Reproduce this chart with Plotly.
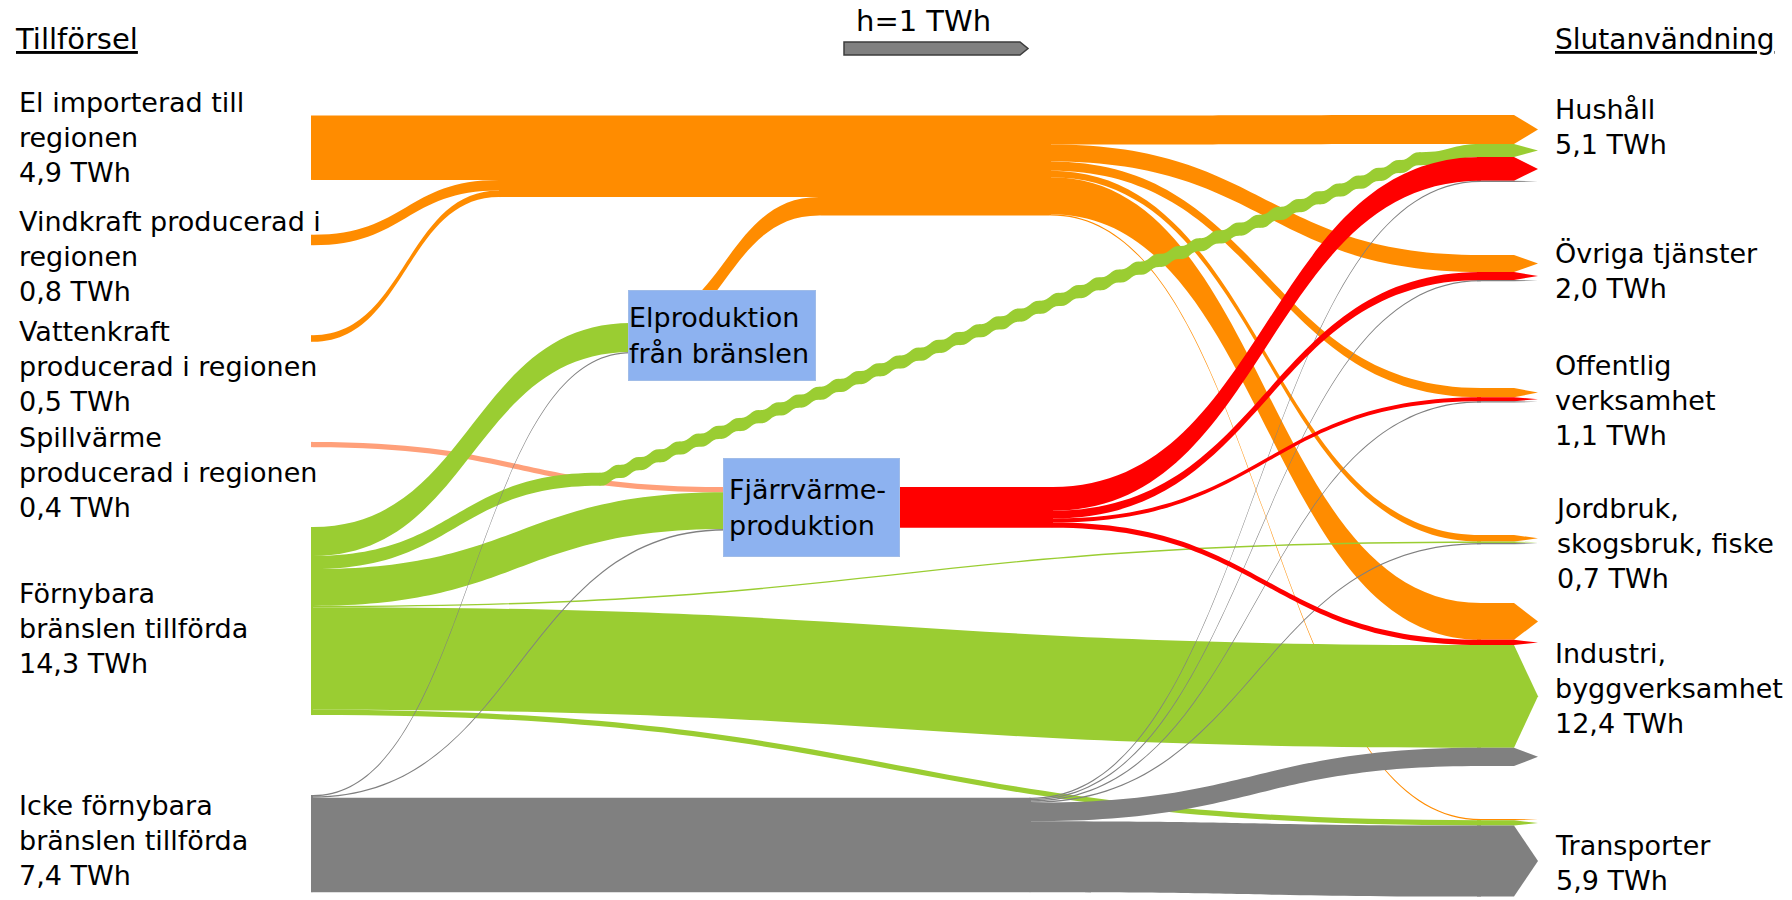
import plotly.graph_objects as go

# ------------------------------------------------------------------ data (TWh)
supply_names = ["El importerad till regionen", "Vindkraft producerad i regionen",
                "Vattenkraft producerad i regionen", "Spillvärme producerad i regionen",
                "Förnybara bränslen tillförda", "Icke förnybara bränslen tillförda"]
supply_text = ["El importerad till<br>regionen", "Vindkraft producerad i<br>regionen",
               "Vattenkraft<br>producerad i regionen", "Spillvärme<br>producerad i regionen",
               "Förnybara<br>bränslen tillförda", "Icke förnybara<br>bränslen tillförda"]
supply_twh = [4.9, 0.8, 0.5, 0.4, 14.3, 7.4]

conv_names = ["Elproduktion från bränslen", "Fjärrvärmeproduktion"]
conv_text = ["Elproduktion<br>från bränslen", "Fjärrvärme-<br>produktion"]

use_names = ["Hushåll", "Övriga tjänster", "Offentlig verksamhet",
             "Jordbruk, skogsbruk, fiske", "Industri, byggverksamhet", "Transporter"]
use_text = ["Hushåll", "Övriga tjänster", "Offentlig<br>verksamhet",
            "Jordbruk,<br>skogsbruk, fiske", "Industri,<br>byggverksamhet", "Transporter"]
use_twh = [5.1, 2.0, 1.1, 0.7, 12.4, 5.9]

el_from_supply = [4.9, 0.8, 0.5]          # import, vind, vatten -> el
el_from_elprod = 1.4                      # elproduktion -> el
el_to_use = [2.2, 1.3, 0.7, 0.5, 2.8, 0.1]
spill_to_fjv = 0.4
renewable_to_conv = [2.2, 2.8]            # -> elproduktion, fjärrvärme
renewable_to_use = [1.0, 0.0, 0.0, 0.1, 7.8, 0.4]
fossil_to_conv = [0.1, 0.1]
fossil_to_use = [0.1, 0.1, 0.1, 0.1, 1.4, 5.4]
fjv_to_use = [1.8, 0.6, 0.3, 0.0, 0.4, 0.0]

scale_twh = 1.0                           # key: h = 1 TWh


def twh(v):
    return f"{v:.1f}".replace(".", ",") + " TWh"


# ------------------------------------------------------------------ layout / style
PAGE_W, PAGE_H = 1792, 900
DOM_L, DOM_R, DOM_T, DOM_B = 300, 1560, 114, 898
DOM_W, DOM_H = DOM_R - DOM_L, DOM_B - DOM_T
KY = 13.15            # px per TWh
THICK = 2
ARROW = 24

ORANGE = "rgb(255,140,0)"
GREEN = "rgb(154,205,50)"
RED = "rgb(255,0,0)"
GREY = "rgb(128,128,128)"
SALMON = "rgb(255,160,122)"
BOX = "rgb(141,178,240)"
NONE = "rgba(0,0,0,0)"
FONT = "DejaVu Sans"
FS = 27

supply_x = 312
supply_top = [115.5, 234.7, 335.2, 441.9, 527, 795]
supply_color = [ORANGE, ORANGE, ORANGE, SALMON, GREEN, GREY]
use_x_in, use_x_stub, use_x_tip = 1482, 1476, 1539
use_top = [115, 255, 388, 535, 603, 819]

# the direct renewable flow to households is drawn as a straight band:
# it is routed through small pass-through nodes along the line between these two points (px)
green_line = ((387, 562.5), (1441, 150.5))
green_route_x = list(range(600, 1421, 20))

# ------------------------------------------------------------------ trace 1 network
keys, nx, ntop, ncol, nname = [], {}, {}, {}, {}


def add_node(k, x, top, col, name):
    keys.append(k)
    nx[k], ntop[k], ncol[k], nname[k] = x, top, col, name


links = []


def add_link(s, t, v, c):
    if v > 0:
        links.append((s, t, v, c))


for i in range(6):
    add_node(f"s{i}", supply_x, supply_top[i], supply_color[i], supply_names[i])
add_node("elprod", 632, 323, BOX, conv_names[0])
add_node("fjv", 727, 487, BOX, conv_names[1])
add_node("elA", 500, 115.5, ORANGE, "El")
add_node("elB", 820, 115.5, ORANGE, "El")
add_node("elC", 1050, 115.5, ORANGE, "El")
add_node("fjvnet", 1052, 487, RED, "Fjärrvärme")
add_node("fossilhub", 1030, supply_top[5] + sum(fossil_to_conv) * KY, GREY, supply_names[5])
(lx0, ly0), (lx1, ly1) = green_line
for j, gx in enumerate(green_route_x):
    gy = ly0 + (ly1 - ly0) * (gx - lx0) / (lx1 - lx0)
    add_node(f"g{j}", gx, gy - renewable_to_use[0] * KY / 2, GREEN, supply_names[4])
for i in range(6):
    add_node(f"u{i}", use_x_in, use_top[i], NONE, use_names[i])

for i in range(3):
    add_link(f"s{i}", "elA", el_from_supply[i], ORANGE)
add_link("elA", "elB", sum(el_from_supply), ORANGE)
add_link("elprod", "elB", el_from_elprod, ORANGE)
add_link("elB", "elC", sum(el_from_supply) + el_from_elprod, ORANGE)
for i, v in enumerate(el_to_use):
    add_link("elC", f"u{i}", v, ORANGE)
add_link("s3", "fjv", spill_to_fjv, SALMON)
add_link("s4", "elprod", renewable_to_conv[0], GREEN)
add_link("s4", "fjv", renewable_to_conv[1], GREEN)
groute = ["s4"] + [f"g{j}" for j in range(len(green_route_x))] + ["u0"]
for a, b in zip(groute[:-1], groute[1:]):
    add_link(a, b, renewable_to_use[0], GREEN)
for i in range(1, 6):
    add_link("s4", f"u{i}", renewable_to_use[i], GREEN)
add_link("s5", "elprod", fossil_to_conv[0], GREY)
add_link("s5", "fjv", fossil_to_conv[1], GREY)
add_link("s5", "fossilhub", sum(fossil_to_use), GREY)
for i, v in enumerate(fossil_to_use):
    add_link("fossilhub", f"u{i}", v, GREY)
add_link("fjv", "fjvnet", sum(fjv_to_use), RED)
for i, v in enumerate(fjv_to_use):
    add_link("fjvnet", f"u{i}", v, RED)


def node_values(keys, links):
    vin = {k: 0.0 for k in keys}
    vout = {k: 0.0 for k in keys}
    for s, t, v, _ in links:
        vout[s] += v
        vin[t] += v
    return {k: max(vin[k], vout[k]) for k in keys}


def build(keys, links, xpos, tops, cols, names, first_col, arrow):
    val = node_values(keys, links)
    idx = {k: i for i, k in enumerate(keys)}
    xs = [(xpos[k] - DOM_L) / DOM_W for k in keys]
    ys = [(tops[k] + val[k] * KY / 2 - DOM_T) / DOM_H for k in keys]
    col_sum = sum(val[k] for k in first_col)
    pad = (DOM_H - col_sum * KY) / (len(first_col) - 1)
    return go.Sankey(
        arrangement="fixed",
        domain=dict(x=[DOM_L / PAGE_W, DOM_R / PAGE_W], y=[1 - DOM_B / PAGE_H, 1 - DOM_T / PAGE_H]),
        hoverinfo="none",
        node=dict(label=["" for _ in keys], customdata=[names[k] for k in keys],
                  x=xs, y=ys, pad=pad, thickness=THICK,
                  color=[cols[k] for k in keys], line=dict(width=0)),
        link=dict(source=[idx[s] for s, _, _, _ in links],
                  target=[idx[t] for _, t, _, _ in links],
                  value=[v for _, _, v, _ in links],
                  color=[c for _, _, _, c in links],
                  arrowlen=arrow, line=dict(width=0)),
    )


trace1 = build(keys, links, nx, ntop, ncol, nname, [f"s{i}" for i in range(6)], 0)

# ------------------------------------------------------------------ trace 2: arrow heads at end uses
keys2, nx2, ntop2, ncol2, nname2 = [], {}, {}, {}, {}
links2 = []
for i in range(6):
    for k, x in ((f"a{i}", use_x_stub), (f"b{i}", use_x_tip)):
        keys2.append(k)
        nx2[k], ntop2[k], ncol2[k], nname2[k] = x, use_top[i], NONE, use_names[i]
for i in range(6):
    inc = [l for l in links if l[1] == f"u{i}"]
    inc.sort(key=lambda l: ntop[l[0]])
    for s, t, v, c in inc:
        links2.append((f"a{i}", f"b{i}", v, c))

trace2 = build(keys2, links2, nx2, ntop2, ncol2, nname2, [f"a{i}" for i in range(6)], ARROW)

fig = go.Figure([trace1, trace2])

# ------------------------------------------------------------------ text
ann = []


def px_x(x):
    return x / PAGE_W


def px_y(y):
    return 1 - y / PAGE_H


def label(text, x, y, size=FS, xanchor="left", yanchor="middle", **kw):
    ann.append(dict(text=text, x=px_x(x), y=px_y(y), xref="paper", yref="paper",
                    xanchor=xanchor, yanchor=yanchor, showarrow=False, align="left",
                    font=dict(family=FONT, size=size, color="black"), **kw))


supply_label_y = [137, 256, 366, 472, 628, 840]
for t, v, y in zip(supply_text, supply_twh, supply_label_y):
    label(f"{t}<br>{twh(v)}", 17, y)

use_label_y = [127.5, 271, 400, 543, 688, 863]
for t, v, y in zip(use_text, use_twh, use_label_y):
    label(f"{t}<br>{twh(v)}", 1553, y)

label("<u>Tillförsel</u>", 13, 39, size=29)
label("<u>Slutanvändning</u>", 1553, 39, size=28)
label(f"h={scale_twh:g} TWh", 923, 21, size=29, xanchor="center")

# boxes for the conversion nodes
label(conv_text[0], 628, 290, yanchor="top", width=188 - 2, height=91 - 2,
      bgcolor=BOX, bordercolor="rgb(160,188,232)", borderwidth=1, borderpad=0, valign="middle")
label(conv_text[1], 723, 458, yanchor="top", width=177 - 12, height=99 - 12,
      bgcolor=BOX, bordercolor="rgb(160,188,232)", borderwidth=1, borderpad=5, valign="middle")

# key bar (thickness = 1 TWh)
bx0, bx1, btip, bcy = 844, 1020, 1028, 48.5
bh = scale_twh * KY / 2
path = (f"M {px_x(bx0)},{px_y(bcy - bh)} L {px_x(bx1)},{px_y(bcy - bh)} "
        f"L {px_x(btip)},{px_y(bcy)} L {px_x(bx1)},{px_y(bcy + bh)} "
        f"L {px_x(bx0)},{px_y(bcy + bh)} Z")
shapes = [dict(type="path", path=path, xref="paper", yref="paper",
               fillcolor=GREY, line=dict(color="rgb(60,60,60)", width=1.5))]

fig.update_layout(width=PAGE_W, height=PAGE_H, margin=dict(l=0, r=0, t=0, b=0),
                  paper_bgcolor="white", plot_bgcolor="white",
                  annotations=ann, shapes=shapes, showlegend=False,
                  font=dict(family=FONT, size=FS, color="black"))

fig.write_html("out.html", config={"displayModeBar": False},
               post_script="document.body.style.margin='0px';")
